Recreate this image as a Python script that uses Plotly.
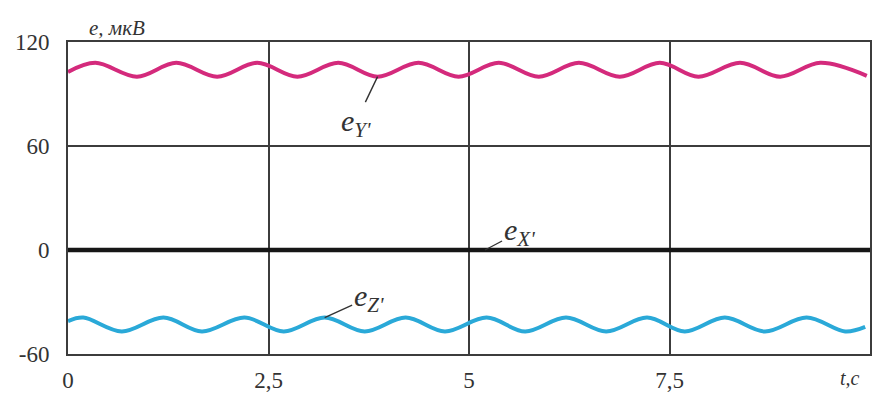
import plotly.graph_objects as go

# ---- data ----
t_Y = [0.0, 0.34, 0.86, 1.35, 1.86, 2.36, 2.86, 3.37, 3.86, 4.37, 4.87,
       5.37, 5.87, 6.37, 6.88, 7.38, 7.86, 8.38, 8.88, 9.38, 9.96]
e_Y = [102.7, 108, 100, 108, 100, 108, 100, 108, 100, 108, 100,
       108, 100, 108, 100, 108, 100, 108, 100, 108, 100.5]

t_Z = [0.0, 0.19, 0.67, 1.19, 1.67, 2.2, 2.69, 3.2, 3.7, 4.21, 4.7,
       5.22, 5.7, 6.21, 6.71, 7.22, 7.69, 8.19, 8.69, 9.21, 9.69, 9.94]
e_Z = [-41, -39, -47, -39, -47, -39, -47, -39, -47, -39, -47,
       -39, -47, -39, -47, -39, -47, -39, -47, -39, -47, -44.4]

t_X = [0.0, 10.0]
e_X = [0.0, 0.0]

x_ticks = [0, 2.5, 5, 7.5]
x_tick_text = ["0", "2,5", "5", "7,5"]
y_ticks = [-60, 0, 60, 120]
y_tick_text = ["-60", "0", "60", "120"]

SERIF = "Liberation Serif, Times New Roman, Times, serif"
GRID = "#3c3c3c"
TXT = "#333333"

fig = go.Figure()
fig.add_trace(go.Scatter(x=t_Y, y=e_Y, mode="lines",
                         line=dict(color="#d42a7c", width=4, shape="spline"),
                         showlegend=False, hoverinfo="skip"))
fig.add_trace(go.Scatter(x=t_Z, y=e_Z, mode="lines",
                         line=dict(color="#2aa9d8", width=4, shape="spline"),
                         showlegend=False, hoverinfo="skip"))
fig.add_trace(go.Scatter(x=t_X, y=e_X, mode="lines",
                         line=dict(color="#161616", width=4.5),
                         showlegend=False, hoverinfo="skip"))

fig.update_layout(
    width=873, height=398,
    margin=dict(l=68, r=3, t=42, b=44),
    paper_bgcolor="white", plot_bgcolor="white",
    font=dict(family=SERIF, size=22, color=TXT),
)
fig.update_xaxes(range=[0, 10], tickvals=x_ticks, ticktext=x_tick_text,
                 showgrid=True, gridcolor=GRID, gridwidth=1.6,
                 showline=True, linecolor=GRID, linewidth=2, mirror=True,
                 zeroline=False, ticks="", ticklabelstandoff=4, automargin=False,
                 tickfont=dict(family=SERIF, size=23, color=TXT))
fig.update_yaxes(range=[-60, 120], tickvals=y_ticks, ticktext=y_tick_text,
                 showgrid=True, gridcolor=GRID, gridwidth=1.6,
                 showline=True, linecolor=GRID, linewidth=2, mirror=True,
                 zeroline=False, ticks="", ticklabelstandoff=12, automargin=False,
                 tickfont=dict(family=SERIF, size=23, color=TXT))

lab_font = dict(family=SERIF, size=30, color=TXT)
arrow = dict(showarrow=True, arrowhead=0, arrowwidth=1.4, arrowcolor=TXT)
fig.add_annotation(x=3.86, y=100, ax=-22, ay=46,
                   text="<i>e</i><sub><i>Y'</i></sub>", font=lab_font, **arrow)
fig.add_annotation(x=5.2, y=0, ax=34, ay=-18,
                   text="<i>e</i><sub><i>X'</i></sub>", font=lab_font, **arrow)
fig.add_annotation(x=3.2, y=-39, ax=44, ay=-20,
                   text="<i>e</i><sub><i>Z'</i></sub>", font=lab_font, **arrow)

fig.add_annotation(xref="paper", yref="paper", x=0.024, y=1.045,
                   xanchor="left", yanchor="middle", showarrow=False,
                   text="<i>e, мкВ</i>", font=dict(family=SERIF, size=21, color=TXT))
fig.add_annotation(xref="paper", yref="paper", x=0.975, y=-0.077,
                   xanchor="center", yanchor="middle", showarrow=False,
                   text="<i>t,c</i>", font=dict(family=SERIF, size=20, color=TXT))

fig.write_html("out.html")
